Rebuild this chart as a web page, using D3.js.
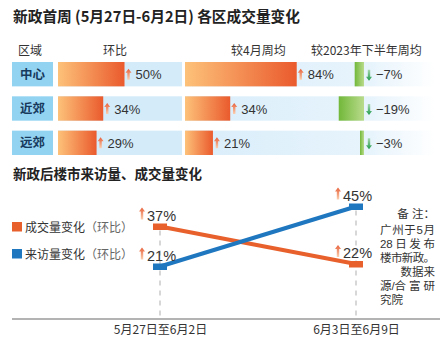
<!DOCTYPE html>
<html><head><meta charset="utf-8">
<script src="https://cdn.jsdelivr.net/npm/d3@7"></script>
<style>
html,body{margin:0;padding:0;background:#fff;}
svg{display:block;}
text{font-family:"Liberation Sans","Noto Sans CJK SC",sans-serif;}
.cjk{font-family:"Noto Sans CJK SC","Liberation Sans",sans-serif;}
</style></head>
<body>
<svg id="c" width="442" height="343"></svg>
<script>
// ---- data ----
const title1 = "新政首周 (5月27日-6月2日) 各区成交量变化";
const title2 = "新政后楼市来访量、成交量变化";
const headers = ["区域","环比","较4月周均","较2023年下半年周均"];
const regions = ["中心","近郊","远郊"];
const momChange = [50,34,29];
const vsApril = [84,34,21];
const vsH2_2023 = [-7,-19,-3];
const periods = ["5月27日至6月2日","6月3日至6月9日"];
const dealChange = [37,22];
const visitChange = [21,45];
const legendNames = ["成交量变化","来访量变化"];
const noteLines = ["备 注：","广州于5月","28 日 发 布","楼市新政。","数据来","源/合 富 研","究院"];

const svg = d3.select("#c");
const defs = svg.append("defs");
function lg(id, stops, x1="0",y1="0",x2="1",y2="0"){
  const g = defs.append("linearGradient").attr("id",id).attr("x1",x1).attr("y1",y1).attr("x2",x2).attr("y2",y2);
  stops.forEach(s=>g.append("stop").attr("offset",s[0]).attr("stop-color",s[1]));
}
lg("orangeBar",[[0,"#fdc27a"],[1,"#ea5a2d"]]);
lg("greenBar",[[0,"#72b83a"],[1,"#b9db8c"]]);
lg("rowBg",[[0,"#d8edfa"],[0.75,"#e8f4fc"],[1,"#ffffff"]]);
lg("upArrow",[[0,"#e8603a"],[1,"#fbd0b0"]],"0","0","0","1");
lg("downArrow",[[0,"#a8d8b0"],[1,"#1e9a4c"]],"0","0","0","1");

const fmt = d3.format("d");
const pct = v => fmt(v)+"%";

// ---- titles ----
svg.append("text").attr("class","cjk").attr("x",13).attr("y",22)
  .attr("font-size",15).attr("font-weight","bold").attr("fill","#222")
  .attr("textLength",287).attr("lengthAdjust","spacingAndGlyphs").text(title1);
svg.append("text").attr("class","cjk").attr("x",13).attr("y",179)
  .attr("font-size",14).attr("font-weight","bold").attr("fill","#222")
  .attr("textLength",189).attr("lengthAdjust","spacingAndGlyphs").text(title2);

// ---- headers ----
const headerX = [18,103,231,311];
svg.selectAll(".hdr").data(headers).join("text").attr("class","cjk")
  .attr("x",(d,i)=>headerX[i]).attr("y",55).attr("font-size",12).attr("fill","#333").text(d=>d);

// ---- bar table ----
const yRow = d3.scaleBand().domain(regions).range([62,155]).paddingInner(0.29).paddingOuter(0);
const w = d3.scaleLinear().domain([0,100]).range([0,133]);
const s1 = 58, s2 = 185, s3 = 364;

function upArrow(g,x,yc,h){
  const p = d3.path();
  p.moveTo(x,yc-h/2); p.lineTo(x+3,yc-h/2+4); p.lineTo(x+1.2,yc-h/2+4);
  p.lineTo(x+1.2,yc+h/2); p.lineTo(x-1.2,yc+h/2); p.lineTo(x-1.2,yc-h/2+4);
  p.lineTo(x-3,yc-h/2+4); p.closePath();
  g.append("path").attr("d",p.toString()).attr("fill","url(#upArrow)");
}
function downArrow(g,x,yc,h){
  const p = d3.path();
  p.moveTo(x,yc+h/2); p.lineTo(x+3,yc+h/2-4); p.lineTo(x+1.2,yc+h/2-4);
  p.lineTo(x+1.2,yc-h/2); p.lineTo(x-1.2,yc-h/2); p.lineTo(x-1.2,yc+h/2-4);
  p.lineTo(x-3,yc+h/2-4); p.closePath();
  g.append("path").attr("d",p.toString()).attr("fill","url(#downArrow)");
}

regions.forEach((r,i)=>{
  const y = yRow(r), h = yRow.bandwidth(), yc = y+h/2;
  const g = svg.append("g");
  g.append("rect").attr("x",12).attr("y",y).attr("width",41).attr("height",h).attr("fill","#93d3f2");
  g.append("text").attr("class","cjk").attr("x",32.5).attr("y",yc+4.5).attr("text-anchor","middle")
    .attr("font-size",12.5).attr("font-weight","bold").attr("fill","#173a5c").text(r);
  g.append("rect").attr("x",s1).attr("y",y).attr("width",124).attr("height",h).attr("fill","#d4ebfa");
  g.append("rect").attr("x",s2).attr("y",y).attr("width",250).attr("height",h).attr("fill","url(#rowBg)");
  // section 1
  const e1 = s1 + w(momChange[i]);
  g.append("rect").attr("x",s1).attr("y",y).attr("width",w(momChange[i])).attr("height",h).attr("fill","url(#orangeBar)");
  upArrow(g,e1+4,yc,11);
  g.append("text").attr("x",e1+11).attr("y",yc+5).attr("font-size",13).attr("fill","#333").text(pct(momChange[i]));
  // section 2
  const e2 = s2 + w(vsApril[i]);
  g.append("rect").attr("x",s2).attr("y",y).attr("width",w(vsApril[i])).attr("height",h).attr("fill","url(#orangeBar)");
  upArrow(g,e2+4,yc,11);
  g.append("text").attr("x",e2+11).attr("y",yc+5).attr("font-size",13).attr("fill","#333").text(pct(vsApril[i]));
  // section 3
  const wn = w(-vsH2_2023[i]);
  g.append("rect").attr("x",s3-wn).attr("y",y).attr("width",wn).attr("height",h).attr("fill","url(#greenBar)");
  downArrow(g,s3+5,yc+1,11);
  g.append("text").attr("x",s3+12).attr("y",yc+5).attr("font-size",13).attr("fill","#333").text(pct(vsH2_2023[i]));
});

// ---- line chart ----
const x = d3.scalePoint().domain(periods).range([160,356]);
const y = d3.scaleLinear().domain([0,50]).range([319,194]);
const colors = ["#e8602c","#1f77c0"];
const series = [dealChange, visitChange];

// baseline axis
const axis = svg.append("g").attr("transform","translate(0,319)")
  .call(d3.axisBottom(x).tickSize(0).tickPadding(6));
axis.select(".domain").remove();
axis.append("line").attr("x1",12).attr("x2",440).attr("stroke","#9a9a9a").attr("stroke-width",1.5);
axis.selectAll(".tick text").attr("class","cjk").attr("font-size",12).attr("fill","#333")
  .attr("font-family","Noto Sans CJK SC, Liberation Sans, sans-serif");

// dashed guides
periods.forEach((p,i)=>{
  const top = Math.min(y(dealChange[i]), y(visitChange[i]));
  svg.append("line").attr("x1",x(p)).attr("x2",x(p)).attr("y1",top+4).attr("y2",318)
    .attr("stroke","#bdbdbd").attr("stroke-width",1.2).attr("stroke-dasharray","5,5");
});

const line = d3.line().x((d,i)=>x(periods[i])).y(d=>y(d));
series.forEach((s,k)=>{
  svg.append("path").attr("d",line(s)).attr("fill","none").attr("stroke",colors[k]).attr("stroke-width",4);
});
series.forEach((s,k)=>{
  s.forEach((v,i)=>{
    svg.append("rect").attr("x",x(periods[i])-7).attr("y",y(v)-3).attr("width",14).attr("height",6.5).attr("fill",colors[k]);
    const g = svg.append("g");
    upArrow(g,x(periods[i])-18,y(v)-13,12);
    g.append("text").attr("x",x(periods[i])-13).attr("y",y(v)-6).attr("font-size",14.5).attr("fill","#333").text(pct(v));
  });
});

// legend
const legY = [222,249];
legendNames.forEach((n,k)=>{
  svg.append("rect").attr("x",12).attr("y",legY[k]).attr("width",10).attr("height",9.5).attr("fill",colors[k]);
  const t = svg.append("text").attr("class","cjk").attr("x",25).attr("y",legY[k]+9.5).attr("font-size",12).attr("fill","#333");
  t.append("tspan").text(n);
  t.append("tspan").attr("fill","#666").text("（环比）");
});

// note (Latin font first keeps the line boxes compact)
const noteY = [218,234,248,262,276,290,304];
noteLines.forEach((l,i)=>{
  const t = svg.append("text").attr("y",noteY[i]).attr("font-size",11.5).attr("fill","#333");
  if(i===0 || i===4){
    t.attr("x",435).attr("text-anchor","end").text(l);
  } else if(i===6){
    t.attr("x",380).text(l);
  } else {
    t.attr("x",380).attr("textLength",55).attr("lengthAdjust","spacing").text(l);
  }
});
</script>
</body></html>
